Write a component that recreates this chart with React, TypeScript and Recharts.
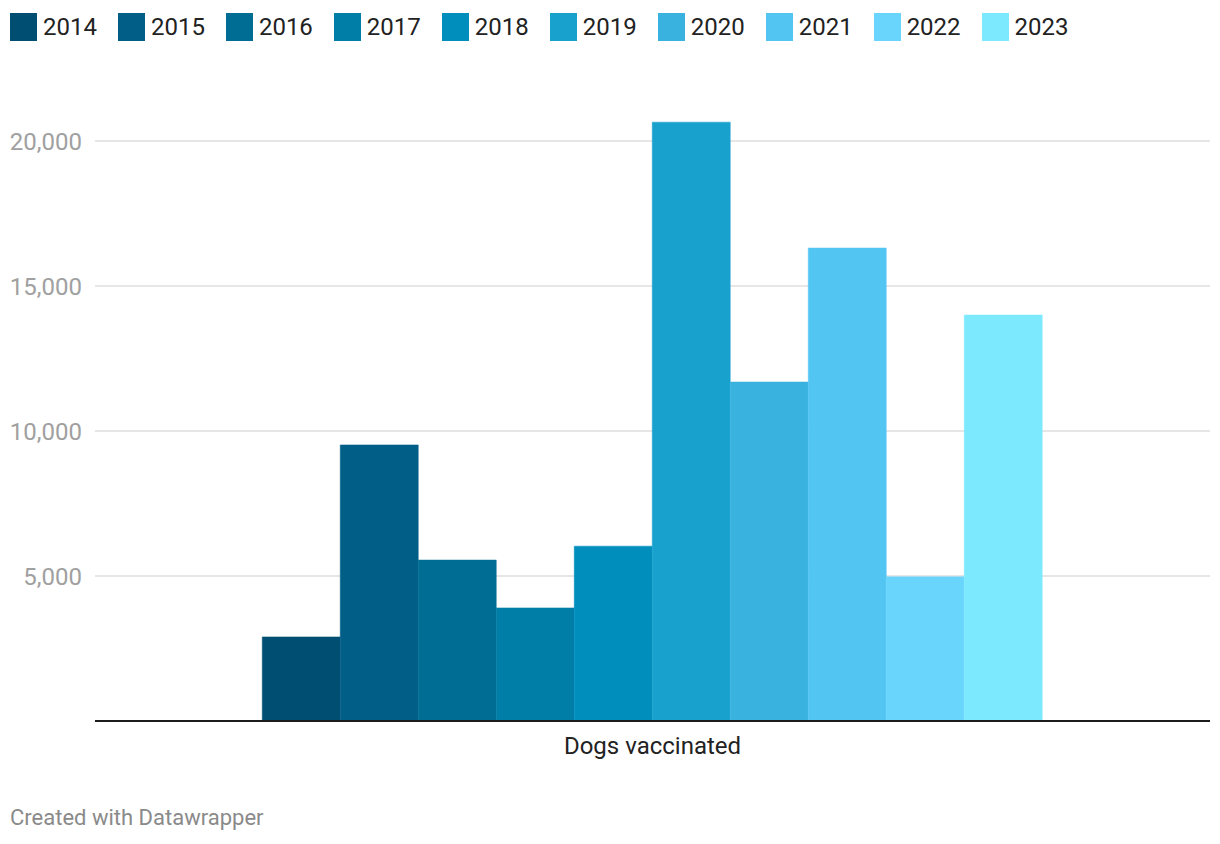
import { BarChart, Bar, XAxis, YAxis, CartesianGrid } from "recharts"

const years = ["2014", "2015", "2016", "2017", "2018", "2019", "2020", "2021", "2022", "2023"]
const colors = [
  "#004f73", "#005e87", "#006d94", "#007ea8", "#008fbd",
  "#19a1ce", "#3ab2e0", "#53c5f2", "#69d5fd", "#7de9ff",
]
const category = "Dogs vaccinated"
const dogsVaccinated = [2900, 9520, 5550, 3900, 6030, 20650, 11690, 16310, 4970, 14000]
const yTicks = [5000, 10000, 15000, 20000]

const data = [
  {
    name: category,
    ...Object.fromEntries(years.map((y, i) => [y, dogsVaccinated[i]])),
  },
]

const font = "Roboto, 'Noto Sans', sans-serif"

export default function App() {
  return (
    <div style={{ position: "absolute", left: 0, top: 0, width: 1220, height: 844, background: "#fff", fontFamily: font }}>
      {/* Legend */}
      <div style={{ position: "absolute", left: 10, top: 13, display: "flex", alignItems: "center" }}>
        {years.map((y, i) => (
          <div key={y} style={{ display: "flex", alignItems: "center", marginRight: 21 }}>
            <div style={{ width: 27, height: 28, background: colors[i], marginRight: 6 }} />
            <span style={{ fontSize: 24, color: "#222", lineHeight: "28px" }}>{y}</span>
          </div>
        ))}
      </div>

      <BarChart
        width={1220}
        height={844}
        data={data}
        margin={{ top: 83, right: 10, left: 0, bottom: 83 }}
        barGap={0}
        barCategoryGap="15%"
      >
        <CartesianGrid vertical={false} horizontalValues={yTicks} stroke="#e6e6e6" strokeWidth={2} />
        <XAxis
          dataKey="name"
          height={40}
          tickLine={false}
          tickSize={0}
          tickMargin={16}
          axisLine={{ stroke: "#1c1c1c", strokeWidth: 2 }}
          tick={{ fill: "#222", fontSize: 24, fontFamily: font }}
        />
        <YAxis
          width={95}
          domain={[0, 22000]}
          ticks={yTicks}
          axisLine={false}
          tickLine={false}
          tickSize={0}
          tickMargin={13}
          tickFormatter={(v: number) => v.toLocaleString("en-US")}
          tick={{ fill: "#a0a0a0", fontSize: 24, fontFamily: font }}
        />
        {years.map((y, i) => (
          <Bar key={y} dataKey={y} fill={colors[i]} stroke={colors[i]} strokeWidth={0.5} isAnimationActive={false} />
        ))}
      </BarChart>

      <div style={{ position: "absolute", left: 10, top: 805, fontSize: 22, color: "#8a8a8a" }}>
        Created with Datawrapper
      </div>
    </div>
  )
}
